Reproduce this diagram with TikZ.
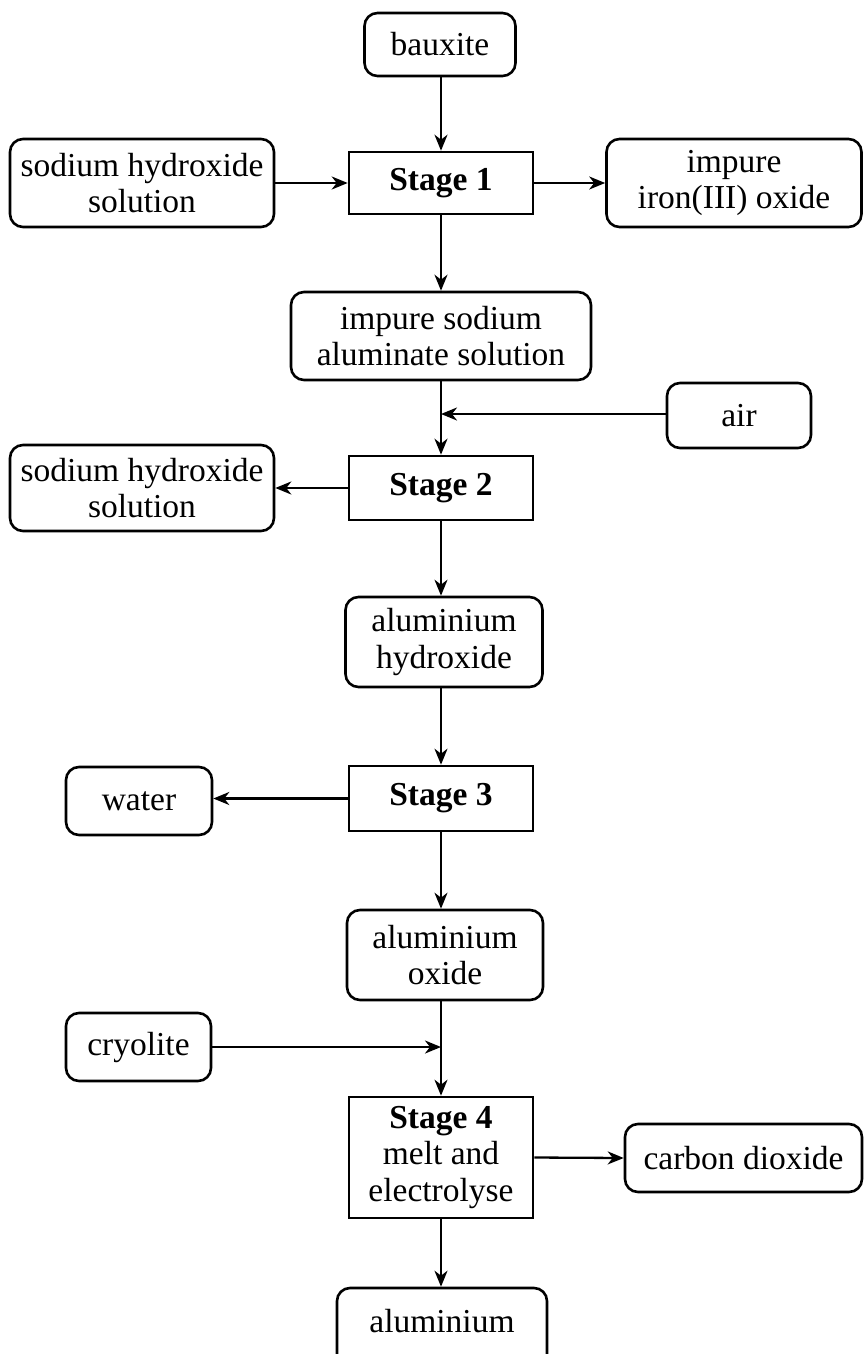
\documentclass[tikz,border=0pt]{standalone}
\usepackage{fontspec}
\setmainfont{Liberation Serif}
\usetikzlibrary{arrows.meta}
\begin{document}
\begin{tikzpicture}[x=1pt,y=-1pt,
  every node/.style={font=\fontsize{33.5}{36.5}\selectfont, align=center, inner sep=0pt},
  item/.style={draw, line width=2.6pt, rounded corners=13pt},
  stagebox/.style={draw, line width=2.6pt},
  flow/.style={line width=2.3pt, -{Stealth[length=16pt,width=13pt,inset=5pt]}}
]
\useasboundingbox (0,0) rectangle (864,1354);
% main axis nodes
\node[item, minimum width=151pt, minimum height=63pt] (bauxite) at (440,44.5) {bauxite};
\node[stagebox, minimum width=184pt, minimum height=62pt] (stage1) at (441,183) {\textbf{Stage 1}};
\node[item, minimum width=264pt, minimum height=88pt] (sod1) at (142,183) {sodium hydroxide\\solution};
\node[item, minimum width=255pt, minimum height=88pt] (iron) at (734,183) {impure\\iron(III) oxide};
\node[item, minimum width=300pt, minimum height=88pt] (aluminate) at (441,336) {impure sodium\\aluminate solution};
\node[item, minimum width=144pt, minimum height=65pt] (air) at (739,415.5) {air};
\coordinate (j1) at (441,414);
\node[stagebox, minimum width=184pt, minimum height=64pt] (stage2) at (441,488) {\textbf{Stage 2}};
\node[item, minimum width=264pt, minimum height=86pt] (sod2) at (142,488) {sodium hydroxide\\solution};
\node[item, minimum width=197pt, minimum height=90pt] (alhyd) at (444,642) {aluminium\\hydroxide};
\node[stagebox, minimum width=184pt, minimum height=65pt] (stage3) at (441,798.5) {\textbf{Stage 3}};
\node[item, minimum width=146pt, minimum height=68pt] (water) at (139,801) {water};
\node[item, minimum width=196pt, minimum height=90pt] (aloxide) at (445,955) {aluminium\\oxide};
\node[item, minimum width=145pt, minimum height=68pt] (cryolite) at (138.5,1047) {cryolite};
\coordinate (j2) at (441,1047);
\node[stagebox, minimum width=184pt, minimum height=121pt] (stage4) at (441,1157.5) {\textbf{Stage 4}\\melt and\\electrolyse};
\node[item, minimum width=237pt, minimum height=68pt] (co2) at (743.5,1158) {carbon dioxide};
\node[item, minimum width=210pt, minimum height=92pt] (aluminium) at (442,1334) {\raisebox{26pt}{aluminium}};
% connectors
\draw[flow] (bauxite.south -| stage1) -- (stage1.north);
\draw[flow] (sod1.east) -- (stage1.west);
\draw[flow] (stage1.east) -- (iron.west);
\draw[flow] (stage1.south) -- (stage1.south |- aluminate.north);
\draw[flow] (aluminate.south -| stage2) -- (stage2.north);
\draw[flow] (air.west |- j1) -- (j1);
\draw[flow] (stage2.west) -- (sod2.east);
\draw[flow] (stage2.south) -- (stage2.south |- alhyd.north);
\draw[flow] (alhyd.south -| stage3) -- (stage3.north);
\draw[flow] (stage3.west) -- (stage3.west -| water.east);
\draw[flow] (stage3.south) -- (stage3.south |- aloxide.north);
\draw[flow] (aloxide.south -| stage4) -- (stage4.north);
\draw[flow] (cryolite.east) -- (j2);
\draw[flow] (stage4.east) -- (co2.west);
\draw[flow] (stage4.south) -- (stage4.south |- aluminium.north);
\end{tikzpicture}
\end{document}
